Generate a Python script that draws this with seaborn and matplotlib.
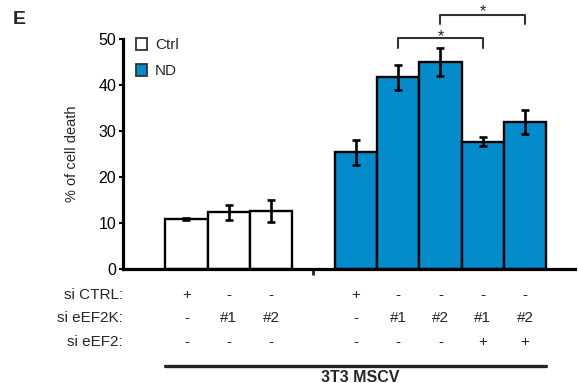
import matplotlib
matplotlib.use("Agg")
import matplotlib.pyplot as plt
import seaborn as sns
import pandas as pd
from matplotlib.patches import Patch
from matplotlib.transforms import blended_transform_factory

# ---- data ----
groups = ["Ctrl", "Ctrl", "Ctrl", "ND", "ND", "ND", "ND", "ND"]
positions = [0, 1, 2, 4, 5, 6, 7, 8]
values = [10.9, 12.3, 12.6, 25.4, 41.7, 45.0, 27.7, 32.0]
errors = [0.25, 1.65, 2.3, 2.7, 2.75, 3.1, 1.0, 2.6]
si_ctrl = ["+", "-", "-", "+", "-", "-", "-", "-"]
si_eef2k = ["-", "#1", "#2", "-", "#1", "#2", "#1", "#2"]
si_eef2 = ["-", "-", "-", "-", "-", "-", "+", "+"]
row_labels = ["si CTRL:", "si eEF2K:", "si eEF2:"]
yticks = [0, 10, 20, 30, 40, 50]
sig_pairs = [(4, 6), (5, 7)]  # indices into positions
group_label = "3T3 MSCV"
ylabel = "% of cell death"
panel = "E"

BLUE = "#038BCB"

sns.set_theme(style="white")
plt.rcParams["font.family"] = ["Liberation Sans", "DejaVu Sans"]

df = pd.DataFrame({"pos": positions, "value": values, "group": groups})

fig = plt.figure(figsize=(5.78, 3.83), dpi=100)
ax = fig.add_axes([123 / 578, 114 / 383, (575 - 123) / 578, 230 / 383])

sns.barplot(data=df, x="pos", y="value", hue="group", native_scale=True,
            dodge=False, width=1.0, palette={"Ctrl": "white", "ND": BLUE},
            saturation=1, edgecolor="black", linewidth=1.7, errorbar=None,
            legend=False, ax=ax)

ax.errorbar(positions, values, yerr=errors, fmt="none", ecolor="black",
            elinewidth=1.9, capsize=3, capthick=1.9, zorder=5)

ax.set_xlim(-1.5, 9.18)
ax.set_ylim(0, 50)
ax.set_yticks(yticks)
ax.set_yticklabels([str(t) for t in yticks])
ax.set_xticks([3])
ax.set_xticklabels([""])
ax.set_xlabel("")
ax.set_ylabel(ylabel, fontsize=10.5, labelpad=14)
for s in ["top", "right"]:
    ax.spines[s].set_visible(False)
for s in ["left", "bottom"]:
    ax.spines[s].set_linewidth(2.3)
    ax.spines[s].set_color("black")
ax.tick_params(axis="y", direction="out", length=3, width=1.5, labelsize=11.5,
               pad=2, left=True, colors="black")
ax.tick_params(axis="x", direction="out", length=4, width=2, bottom=True)

# significance brackets: (tick bottom, bar level, star baseline)
bracket_levels = [(48.0, 50.2, 49.6), (53.2, 55.3, 55.0)]
for (i, j), (lo, hi, sb) in zip(sig_pairs, bracket_levels):
    x1, x2 = positions[i], positions[j]
    ax.plot([x1, x1, x2, x2], [lo, hi, hi, lo], color="#333333", lw=1.5,
            clip_on=False)
    ax.text((x1 + x2) / 2, sb, "*", ha="center", va="baseline",
            fontsize=11.5, color="#222222", clip_on=False)

# legend
handles = [Patch(facecolor="white", edgecolor="#333333", linewidth=1.3, label="Ctrl"),
           Patch(facecolor=BLUE, edgecolor="#333333", linewidth=1.3, label="ND")]
ax.legend(handles=handles, loc="upper left", bbox_to_anchor=(0.028, 1.005),
          frameon=False, fontsize=11, handlelength=0.75, handleheight=0.85,
          handletextpad=0.5, labelspacing=0.75, borderpad=0, borderaxespad=0)

# treatment table below
tr = blended_transform_factory(ax.transData, fig.transFigure)
row_y = [1 - 295 / 383, 1 - 318 / 383, 1 - 342 / 383]
for lab, y in zip(row_labels, row_y):
    fig.text(123 / 578, y, lab, ha="right", va="center", fontsize=11)
for row, y in zip([si_ctrl, si_eef2k, si_eef2], row_y):
    for p, t in zip(positions, row):
        ax.text(p, y, t, transform=tr, ha="center", va="center", fontsize=11,
                clip_on=False)

line_y = 1 - 366 / 383
ax.plot([positions[0] - 0.5, positions[-1] + 0.5], [line_y, line_y],
        transform=tr, color="#222222", lw=2.4, clip_on=False)
ax.text((positions[0] + positions[-1]) / 2 + 0.1, 1 - 377 / 383, group_label,
        transform=tr, ha="center", va="center", fontsize=11.5, fontweight="bold")

fig.text(13 / 578, 1 - 20 / 383, panel, ha="left", va="center", fontsize=14,
         fontweight="bold")

fig.savefig("out.png", dpi=100)
